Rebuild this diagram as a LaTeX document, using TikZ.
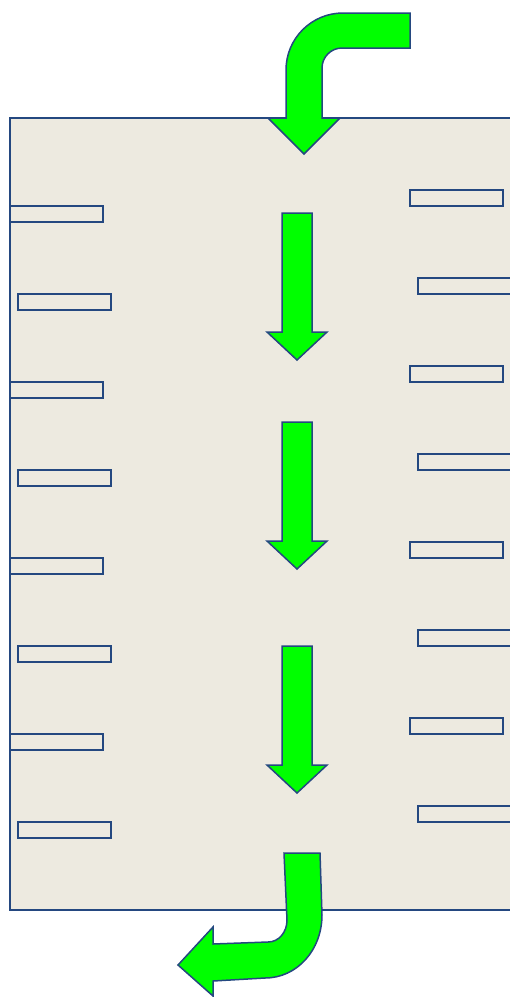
\documentclass[tikz,border=0pt]{standalone}
\usetikzlibrary{positioning,calc}
\definecolor{tankfill}{RGB}{237,234,224}
\definecolor{edgeblue}{RGB}{36,72,128}
\definecolor{flowgreen}{RGB}{0,255,0}
\begin{document}
\begin{tikzpicture}[x=1pt,y=-1pt]
                    \tikzstyle{tank}=[draw=edgeblue,line width=1.5,fill=tankfill]
                    \tikzstyle{baffle}=[tank,rectangle,inner sep=0,outer sep=0,minimum width=93,minimum height=16,anchor=north west]
                    \tikzstyle{flow}=[draw=edgeblue,line width=1.5,fill=flowgreen,line join=miter]
                    {
                        \useasboundingbox (0,0) rectangle (510,997);

                        % tank body
                        \draw[tank] (10,118) rectangle (512,910);

                        % baffles, staggered
                        \foreach \i in {0,...,7} {
                            \pgfmathsetmacro{\dx}{8*mod(\i,2)}
                            \node[baffle] (left\i) at (10+\dx,206+88*\i) {};
                            \node[baffle] (right\i) at (410+\dx,190+88*\i) {};
                        }

                        % inlet
                        \draw[flow] (410,13) -- (410,48) -- (342,48)
                            .. controls (331,48) and (322,57) .. (322,68)
                            -- (322,118) -- (340,118) -- (304,154) -- (268,118) -- (286,118) -- (286,70)
                            .. controls (286,38.5) and (311.5,13) .. (343,13) -- cycle;

                        % flow down the tank
                        \foreach \t in {213,422,646}
                            \draw[flow] (282,\t) -- (312,\t) -- (312,\t+119) -- (327,\t+119)
                                -- (297,\t+147) -- (267,\t+119) -- (282,\t+119) -- cycle;

                        % outlet
                        \draw[flow] (284,853) -- (320,853) -- (322,915)
                            .. controls (322,950) and (297,978) .. (265,978)
                            -- (213,981) -- (213,996) -- (178,965) -- (213,927) -- (213,944) -- (268,942)
                            .. controls (279,942) and (287,932) .. (287,920) -- cycle;
                    }
\end{tikzpicture}
\end{document}
